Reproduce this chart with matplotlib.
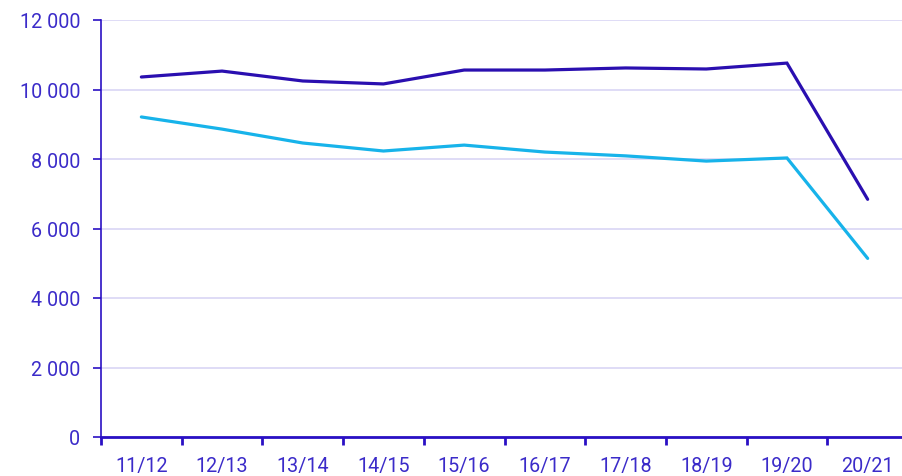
import matplotlib
matplotlib.use("Agg")
import matplotlib.pyplot as plt
from matplotlib.ticker import FuncFormatter, FixedLocator

categories = ["11/12", "12/13", "13/14", "14/15", "15/16", "16/17", "17/18", "18/19", "19/20", "20/21"]
series_dark = [10360, 10530, 10245, 10160, 10560, 10560, 10620, 10590, 10760, 6840]
series_light = [9210, 8860, 8460, 8230, 8400, 8200, 8090, 7940, 8030, 5140]

plt.rcParams['font.family'] = ['Roboto', 'DejaVu Sans']
text_color = "#3b2bc9"
axis_color = "#2a10c4"

W, H = 902, 477
fig = plt.figure(figsize=(W/100, H/100), dpi=100)
ax = fig.add_axes([101/W, (H-438)/H, (908-101)/W, (438-21)/H])

x = list(range(len(categories)))
ax.plot(x, series_dark, color="#2a0fb0", lw=2.3, solid_capstyle="round", solid_joinstyle="miter", zorder=3, clip_on=False)
ax.plot(x, series_light, color="#17b3ea", lw=2.3, solid_capstyle="round", solid_joinstyle="miter", zorder=3, clip_on=False)

ax.set_xlim(-0.5, len(categories) - 0.5)
ax.set_ylim(0, 12000)
ax.set_yticks(range(0, 12001, 2000))
ax.yaxis.set_major_formatter(FuncFormatter(lambda v, p: f"{int(v):,}".replace(",", " ")))
ax.xaxis.set_major_locator(FixedLocator([i - 0.5 for i in range(len(categories) + 1)]))
ax.xaxis.set_major_formatter(FuncFormatter(lambda v, p: ""))
ax.set_xticks(x, minor=True)
ax.set_xticklabels(categories, minor=True)
ax.tick_params(axis='x', which='minor', length=0, pad=14, labelsize=14.2, labelcolor=text_color)
ax.tick_params(axis='x', which='major', length=5.5, width=2, color=axis_color, direction='out')
ax.tick_params(axis='y', length=6, width=1.2, color=axis_color, labelsize=14.2, labelcolor=text_color, pad=9)

ax.grid(axis='y', color="#d9d6f5", lw=1.2)
ax.set_axisbelow(True)
for s in ["top", "right"]:
    ax.spines[s].set_visible(False)
ax.spines["left"].set_color(axis_color)
ax.spines["left"].set_linewidth(1.2)
ax.spines["bottom"].set_color(axis_color)
ax.spines["bottom"].set_linewidth(2)

fig.savefig("out.png", dpi=100, facecolor="white")
